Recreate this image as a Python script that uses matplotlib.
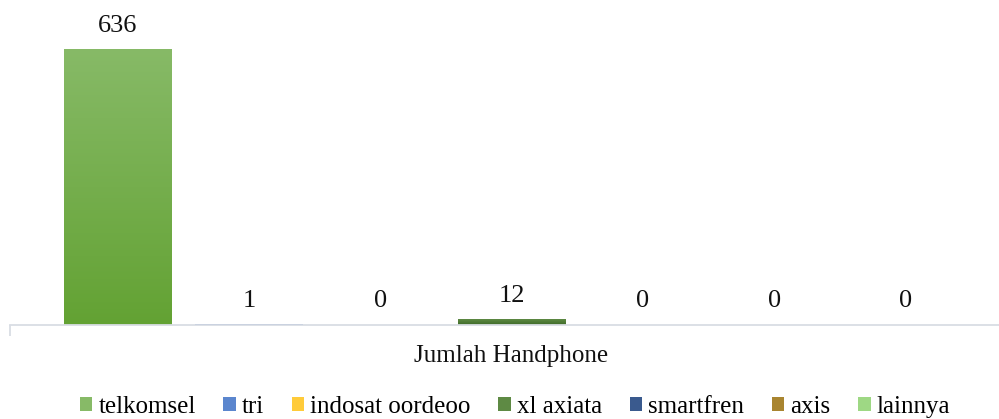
import numpy as np
import matplotlib.pyplot as plt
from matplotlib.patches import Patch
from matplotlib.colors import LinearSegmentedColormap, to_rgb

operators = ['telkomsel', 'tri', 'indosat oordeoo', 'xl axiata', 'smartfren', 'axis', 'lainnya']
jumlah = [636, 1, 0, 12, 0, 0, 0]
category = 'Jumlah Handphone'

# Office-style colours (top of gradient, bottom of gradient)
top_colors = ['#87BA67', '#5B86CE', '#FFCB3A', '#5E8A44', '#3A5A8E', '#A98530', '#9ED884']
bottom_colors = ['#63A233', '#3466BC', '#F2B600', '#3F6A27', '#1E3C72', '#8E6700', '#7EC55A']

plt.rcParams['font.family'] = ['Liberation Serif', 'DejaVu Serif']

fig = plt.figure(figsize=(9.99, 4.19), dpi=100)
ax = fig.add_axes([10 / 999, 94 / 419, 989 / 999, 302.7 / 419])

x = np.arange(len(operators))
width = 0.815
bars = ax.bar(x, jumlah, width=width, color=bottom_colors, zorder=2)

# vertical gradient fill for each bar
grad = np.linspace(1, 0, 256).reshape(-1, 1)
for b, c1, c2 in zip(bars, top_colors, bottom_colors):
    h = b.get_height()
    if h <= 0:
        continue
    cmap = LinearSegmentedColormap.from_list('g', [to_rgb(c2), to_rgb(c1)])
    ax.imshow(grad, extent=(b.get_x(), b.get_x() + b.get_width(), 0, h),
              aspect='auto', cmap=cmap, zorder=2.5, interpolation='bicubic')
    b.set_alpha(0)

for xi, v in zip(x, jumlah):
    ax.annotate(str(v), (xi, v), xytext=(0, 17), textcoords='offset points',
                ha='center', va='center', fontsize=19, color='#111111')

ax.set_xlim(-0.819, 6.713)
ax.set_ylim(0, 700)
for s in ['top', 'right', 'left']:
    ax.spines[s].set_visible(False)
ax.spines['bottom'].set_color('#D9DDE4')
ax.spines['bottom'].set_linewidth(1.3)
ax.set_yticks([])
ax.set_xticks([-0.819])
ax.set_xticklabels([''])
ax.tick_params(axis='x', length=8, width=1.3, color='#D9DDE4', direction='out')

fig.text(511 / 999, (419 - 356) / 419, category, ha='center', va='center',
         fontsize=18, color='#111111')

handles = [Patch(facecolor=c) for c in top_colors]
fig.legend(handles, operators, loc='center', bbox_to_anchor=(515 / 999, (419 - 407) / 419),
           ncol=7, frameon=False, fontsize=18, handlelength=0.5, handleheight=0.5,
           handletextpad=0.25, columnspacing=1.1, borderaxespad=0, borderpad=0)

fig.savefig('out.png', dpi=100)
